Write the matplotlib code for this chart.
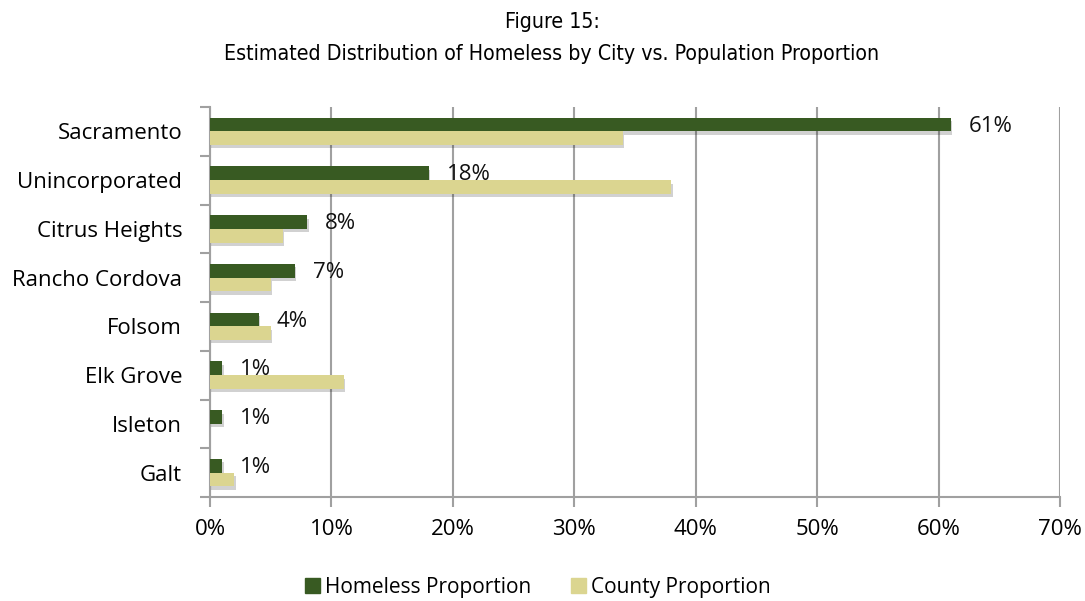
import numpy as np
import matplotlib.pyplot as plt
import matplotlib.patheffects as pe
from matplotlib.patches import Patch
from matplotlib.ticker import MultipleLocator, FuncFormatter

# --- Data (percent) ---
cities = ["Sacramento", "Unincorporated", "Citrus Heights", "Rancho Cordova",
          "Folsom", "Elk Grove", "Isleton", "Galt"]
homeless = [61, 18, 8, 7, 4, 1, 1, 1]
county = [34, 38, 6, 5, 5, 11, 0, 2]

DARK = '#385a22'
TAN = '#dbd590'
GRID = '#a0a0a0'

plt.rcParams['font.family'] = ['Open Sans', 'DejaVu Sans']

fig = plt.figure(figsize=(10.85, 6.01), dpi=100)
ax = fig.add_axes([210/1085, 1-497/601, 850/1085, 390/601])

n = len(cities)
y = np.arange(n)
h = 0.28
shadow = [pe.SimplePatchShadow(offset=(1, -2.5), shadow_rgbFace='k', alpha=0.18), pe.Normal()]

hb = ax.barh(y - h/2, homeless, height=h, color=DARK, zorder=3)
cb = ax.barh(y + h/2, county, height=h, color=TAN, zorder=3)
for b in list(hb) + list(cb):
    if b.get_width() > 0:
        b.set_path_effects(shadow)

# value labels for homeless share only
for yi, v in zip(y, homeless):
    ax.text(v + 1.5, yi - h/2 + 0.03, f"{v}%", va='center', ha='left', fontsize=16, color='#111111', zorder=4)

ax.set_xlim(0, 70)
ax.set_ylim(n - 0.5, -0.5)
ax.xaxis.set_major_locator(MultipleLocator(10))
ax.xaxis.set_major_formatter(FuncFormatter(lambda v, p: f"{v:.0f}%"))
ax.set_yticks(y)
ax.set_yticklabels(cities)
ax.set_yticks(np.arange(-0.5, n, 1), minor=True)

ax.grid(axis='x', color=GRID, linewidth=1.5, zorder=0)
for s in ['top', 'right']:
    ax.spines[s].set_visible(False)
for s in ['left', 'bottom']:
    ax.spines[s].set_color(GRID)
    ax.spines[s].set_linewidth(1.5)

ax.tick_params(axis='y', which='major', length=0, labelsize=16, pad=20)
ax.tick_params(axis='y', which='minor', length=7, width=1.5, color=GRID)
ax.tick_params(axis='x', which='major', length=7, width=1.5, color=GRID, labelsize=16, pad=9)

title_font = dict(ha='center', va='center', fontsize=15.3, stretch='condensed',
                  family=['DejaVu Sans', 'Liberation Sans Narrow'])
fig.text(552/1085, 1-22/601, "Figure 15:", **title_font)
fig.text(552/1085, 1-54/601, "Estimated Distribution of Homeless by City vs. Population Proportion", **title_font)

handles = [Patch(color=DARK, label='Homeless Proportion'), Patch(color=TAN, label='County Proportion')]
fig.legend(handles=handles, loc='center', bbox_to_anchor=(538/1085, 1-587/601), ncol=2,
           frameon=False, fontsize=15, handlelength=0.7, handleheight=0.7,
           handletextpad=0.25, columnspacing=1.9)

fig.savefig('out.png', dpi=100, facecolor='white')
